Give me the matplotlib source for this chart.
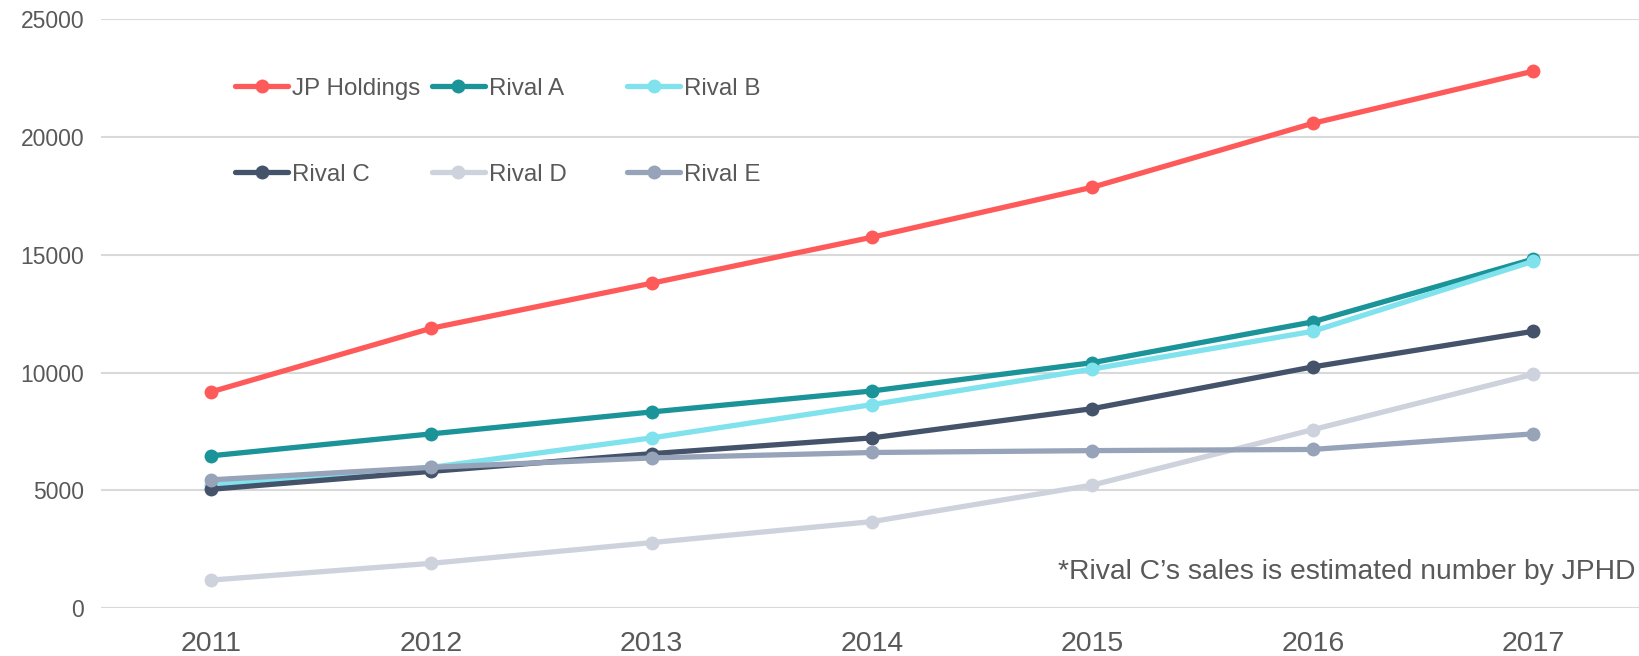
import matplotlib
matplotlib.use("Agg")
import matplotlib.pyplot as plt

years = ["2011", "2012", "2013", "2014", "2015", "2016", "2017"]
series_names = ["JP Holdings", "Rival A", "Rival B", "Rival C", "Rival D", "Rival E"]
jp_holdings = [9180, 11880, 13790, 15740, 17860, 20570, 22780]
rival_a = [6470, 7400, 8330, 9220, 10420, 12150, 14810]
rival_b = [5230, 5980, 7230, 8640, 10150, 11750, 14720]
rival_c = [5050, 5810, 6560, 7230, 8470, 10240, 11750]
rival_d = [1200, 1910, 2790, 3680, 5230, 7580, 9930]
rival_e = [5450, 5980, 6380, 6610, 6690, 6740, 7400]
colors = ["#FF5A5A", "#1A9399", "#80E2EC", "#44526A", "#CDD2DD", "#97A3B8"]
y_ticks = [0, 5000, 10000, 15000, 20000, 25000]
note = "*Rival C\u2019s sales is estimated number by JPHD"

values = [jp_holdings, rival_a, rival_b, rival_c, rival_d, rival_e]

plt.rcParams['font.family'] = ['Liberation Sans', 'DejaVu Sans']
text_color = "#595959"

fig = plt.figure(figsize=(16.39, 6.56), dpi=100)
ax = fig.add_axes([0.0615, 0.0726, 0.9412, 0.8987])

x = list(range(len(years)))
handles = []
for name, vals, c in zip(series_names, values, colors):
    h, = ax.plot(x, vals, color=c, lw=3.8, marker="o", markersize=10,
                 markeredgewidth=0, label=name, solid_capstyle="round")
    handles.append(h)

ax.set_xlim(-0.5, 6.5)
ax.set_ylim(0, 25000)
ax.set_yticks(y_ticks)
ax.set_yticklabels([str(v) for v in y_ticks])
ax.set_xticks(x)
ax.set_xticklabels(years)
ax.grid(axis="y", color="#D9D9D9", lw=1.5)
ax.set_axisbelow(True)
for s in ax.spines.values():
    s.set_visible(False)
ax.tick_params(axis="y", length=0, pad=12, labelsize=16.5, labelcolor=text_color)
ax.tick_params(axis="x", length=0, pad=16, labelsize=20.5, labelcolor=text_color)

# Legend: three columns of fixed width, two rows
col_x = [225 * 1.0453 / 1639, 413 * 1.0453 / 1639, 600 * 1.0453 / 1639]
row_y = 1 - 74.5 * 1.0453 / 656
for ci in range(3):
    hs = [handles[ci], handles[ci + 3]]
    fig.legend(hs, [series_names[ci], series_names[ci + 3]],
               loc="upper left", bbox_to_anchor=(col_x[ci], row_y),
               frameon=False, fontsize=17.4, labelcolor=text_color,
               handlelength=2.2, handletextpad=0.15, labelspacing=2.65,
               borderaxespad=0, borderpad=0)

fig.text(1636 / 1639, 1 - 572 / 656, note, ha="right", va="center",
         fontsize=20.3, color=text_color)

fig.savefig("out.png", dpi=100)
